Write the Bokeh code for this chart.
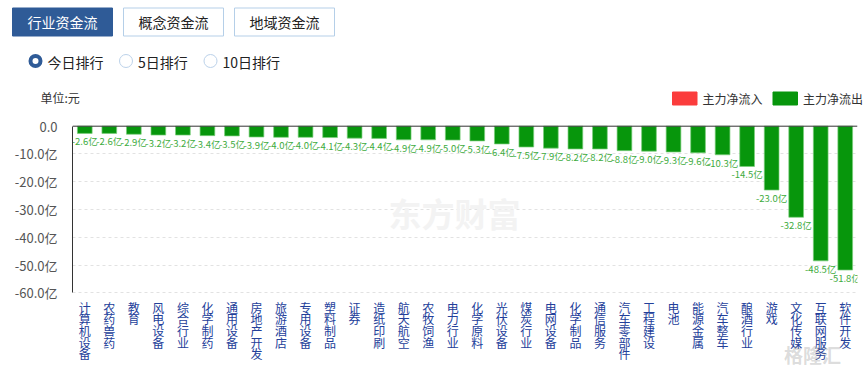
from bokeh.plotting import figure
from bokeh.layouts import column
from bokeh.models import Range1d, FixedTicker, Span
from bokeh.core.properties import value
from bokeh.embed import file_html
from bokeh.resources import INLINE

# ---------------- data ----------------
categories = ["计算机设备", "农药兽药", "教育", "风电设备", "综合行业", "化学制药", "通用设备",
              "房地产开发", "旅游酒店", "专用设备", "塑料制品", "证券", "造纸印刷", "航天航空",
              "农牧饲渔", "电力行业", "化学原料", "光伏设备", "煤炭行业", "电网设备", "化学制品",
              "通信服务", "汽车零部件", "工程建设", "电池", "能源金属", "汽车整车", "酿酒行业",
              "游戏", "文化传媒", "互联网服务", "软件开发"]
net_flow = [-2.6, -2.6, -2.9, -3.2, -3.2, -3.4, -3.5, -3.9, -4.0, -4.0, -4.1, -4.3, -4.4, -4.9,
            -4.9, -5.0, -5.3, -6.4, -7.5, -7.9, -8.2, -8.2, -8.8, -9.0, -9.3, -9.6, -10.3, -14.5,
            -23.0, -32.8, -48.5, -51.8]
y_ticks = [0, -10, -20, -30, -40, -50, -60]
tabs = ["行业资金流", "概念资金流", "地域资金流"]
periods = ["今日排行", "5日排行", "10日排行"]
legend_items = ["主力净流入", "主力净流出"]
unit_label = "单位:元"

FONT = "Noto Sans CJK SC"
GREEN = "#07960c"
RED = "#fb3c3c"
BLUE = "#2f5b97"
W = 868
HEAD_H = 110
CHART_H = 258

# ---------------- header (tabs, radios, unit, legend) ----------------
h = figure(width=W, height=HEAD_H, x_range=Range1d(0, W), y_range=Range1d(HEAD_H, 0),
           output_backend="svg", toolbar_location=None,
           x_axis_location=None, y_axis_location=None,
           min_border_left=0, min_border_right=0, min_border_top=0, min_border_bottom=0)
h.frame_align = False
h.outline_line_color = None
h.grid.visible = False

tab_left = [12, 123, 234]
for i, (t, l) in enumerate(zip(tabs, tab_left)):
    sel = i == 0
    h.quad(left=l, right=l + 100, top=7.5, bottom=35.5,
           fill_color=BLUE if sel else "white",
           line_color=BLUE if sel else "#b5cfe8", line_width=1)
    h.text(x=[l + 50], y=[21.5], text=[t], text_align="center", text_baseline="middle",
           text_font=value(FONT), text_font_size="14px",
           text_color="white" if sel else "#222222")

radio_x = [35, 125.5, 210]
for i, (t, rx) in enumerate(zip(periods, radio_x)):
    if i == 0:
        h.scatter(x=[rx], y=[60.5], size=10, marker="circle", fill_color="white",
                  line_color=BLUE, line_width=4)
    else:
        h.scatter(x=[rx], y=[60.5], size=13, marker="circle", fill_color="white",
                  line_color="#bcd2ea", line_width=1)
    h.text(x=[rx + 12], y=[61], text=[t], text_align="left", text_baseline="middle",
           text_font=value(FONT), text_font_size="14px", text_color="#222222")

h.text(x=[40], y=[97], text=[unit_label], text_align="left", text_baseline="middle",
       text_font=value(FONT), text_font_size="12px", text_color="#333333")

leg_x = [672, 772.5]
leg_col = [RED, GREEN]
for t, lx, c in zip(legend_items, leg_x, leg_col):
    h.quad(left=lx, right=lx + 24.5, top=91.5, bottom=104.5, fill_color=c, line_color=c)
    h.text(x=[lx + 30], y=[98], text=[t], text_align="left", text_baseline="middle",
           text_font=value(FONT), text_font_size="12px", text_color="#333333")

# ---------------- chart ----------------
idx = list(range(len(categories)))

p = figure(width=W, height=CHART_H,
           x_range=Range1d(-0.5, len(categories) - 0.5),
           y_range=Range1d(-87.26, 5.65),
           output_backend="svg", toolbar_location=None,
           x_axis_location=None,
           min_border_left=72, min_border_right=11, min_border_top=0, min_border_bottom=0)
p.frame_align = False
p.outline_line_color = None
p.extra_x_ranges = {"px": Range1d(72, 857)}
p.extra_y_ranges = {"px": Range1d(368, 110)}
px = dict(x_range_name="px", y_range_name="px")

# watermarks
p.text(x=[454], y=[212], text=["东方财富"], text_align="center", text_baseline="middle",
       text_font=value(FONT), text_font_size="33px", text_font_style="bold",
       text_color="#f3f3f3", **px)

# y axis
yax = p.yaxis[0]
yax.ticker = FixedTicker(ticks=y_ticks)
yax.bounds = (min(y_ticks), max(y_ticks))
yax.major_label_overrides = {t: ("0.0" if t == 0 else f"{t:.1f}亿") for t in y_ticks}
yax.axis_line_color = "#333333"
yax.major_tick_line_color = None
yax.minor_tick_line_color = None
yax.major_label_standoff = 9
yax.major_label_text_font = FONT
yax.major_label_text_font_size = "13px"
yax.major_label_text_color = "#555555"

p.xgrid.visible = False
p.ygrid.ticker = FixedTicker(ticks=y_ticks[1:])
p.ygrid.grid_line_color = "#e2e2e2"
p.ygrid.grid_line_dash = "3 3"

# bars
p.vbar(x=idx, top=net_flow, bottom=0, width=0.6,
       fill_color=GREEN, line_color="#7ccf7c", line_width=1, line_alpha=0.7)

p.add_layout(Span(location=0, dimension="width", line_color="#333333", line_width=1))

# data labels
p.text(x=idx, y=net_flow, text=[f"{v:.1f}亿" for v in net_flow],
       y_offset=8, text_align="center", text_baseline="middle",
       text_font=value(FONT), text_font_size="9.5px", text_color="#3dab3d")

# vertical category labels (one character per line)
xs, ys, chs = [], [], []
for k, c in enumerate(categories):
    for i, ch in enumerate(c):
        xs.append(k)
        ys.append(306.5 + i * 11.7)
        chs.append(ch)
p.text(x=xs, y=ys, text=chs, y_range_name="px",
       text_align="center", text_baseline="middle",
       text_font=value(FONT), text_font_size="12px", text_color="#23409a")

p.text(x=[812], y=[354], text=["格隆汇"], text_align="center", text_baseline="middle",
       text_font=value(FONT), text_font_size="19px", text_font_style="bold",
       text_color="#888888", text_alpha=0.3, **px)

layout = column(h, p, spacing=0)
open("out.html", "w").write(file_html(layout, INLINE))
